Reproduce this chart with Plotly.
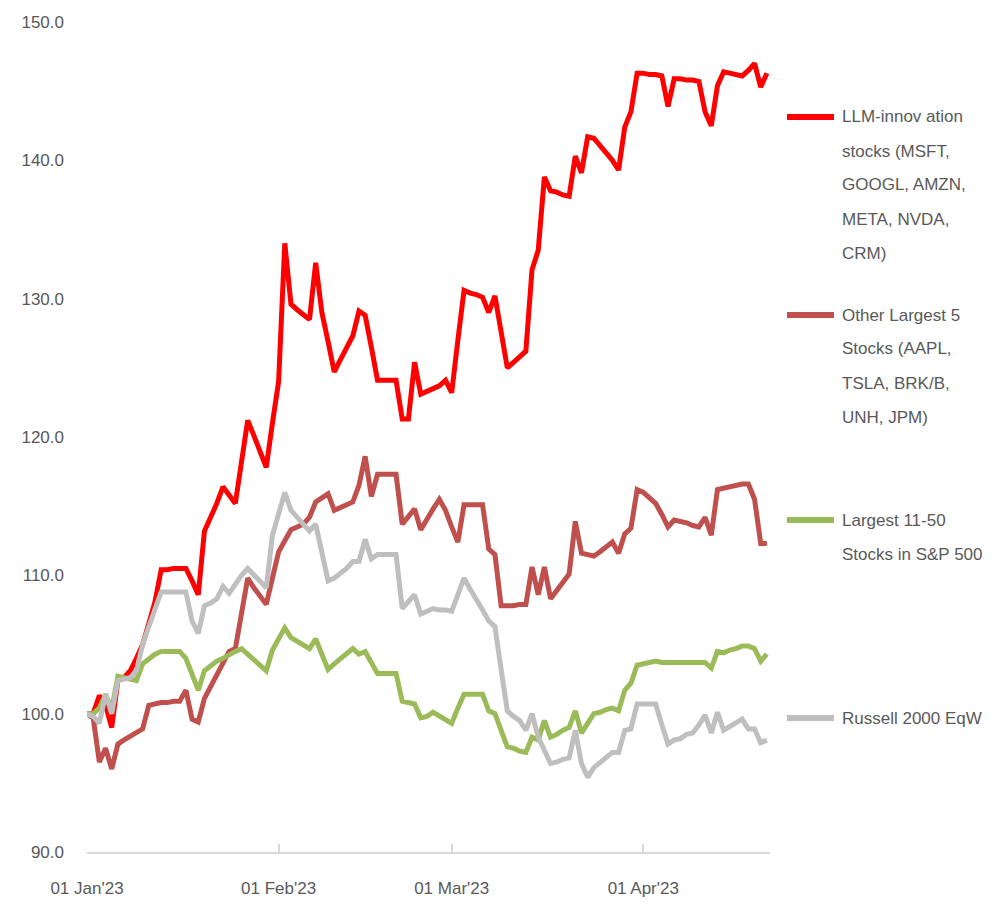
import pandas as pd
import plotly.graph_objects as go

# ---- data (calendar days, 01 Jan 2023 .. 21 Apr 2023; non-trading days carry the prior value) ----
dates = pd.date_range("2023-01-01", "2023-04-21", freq="D")

llm = [100.0, 100.0, 101.3, 100.6, 99.0, 102.4, 102.6, 103.1, 104.0, 105.0,
       106.5, 108.1, 110.4, 110.4, 110.5, 110.5, 110.5, 109.6, 108.6, 113.2,
       114.1, 115.2, 116.4, 115.8, 115.2, 118.2, 121.2, 120.1, 118.9, 117.8,
       121.0, 124.0, 134.0, 129.6, 129.2, 128.9, 128.5, 132.6, 129.0, 126.9,
       124.7, 125.6, 126.4, 127.3, 129.1, 128.8, 126.5, 124.1, 124.1, 124.1,
       124.1, 121.3, 121.3, 125.4, 123.1, 123.3, 123.5, 123.7, 124.1, 123.2,
       127.0, 130.6, 130.4, 130.3, 130.1, 129.0, 130.2, 127.6, 125.0, 125.4,
       125.8, 126.2, 132.1, 133.5, 138.8, 137.8, 137.7, 137.5, 137.4, 140.3,
       139.1, 141.7, 141.6, 141.1, 140.5, 140.0, 139.3, 142.4, 143.5, 146.3,
       146.3, 146.2, 146.2, 146.1, 143.9, 145.9, 145.9, 145.8, 145.8, 145.7,
       143.5, 142.5, 145.4, 146.4, 146.3, 146.2, 146.1, 146.5, 147.0, 145.3,
       146.3]

other5 = [100.0, 99.7, 96.5, 97.5, 96.0, 97.8, 98.1, 98.4, 98.7, 98.9,
          100.6, 100.7, 100.8, 100.8, 100.9, 100.9, 101.7, 99.6, 99.4, 101.1,
          102.0, 102.9, 103.7, 104.5, 104.7, 107.3, 109.8, 109.1, 108.5, 107.9,
          109.8, 111.7, 112.5, 113.3, 113.5, 113.7, 114.2, 115.3, 115.6, 115.9,
          114.7, 114.9, 115.1, 115.3, 116.5, 118.6, 115.7, 117.3, 117.3, 117.3,
          117.3, 113.7, 114.2, 114.8, 113.3, 114.1, 114.8, 115.5, 114.7, 113.5,
          112.4, 115.1, 115.1, 115.1, 115.1, 111.9, 111.5, 107.8, 107.8, 107.8,
          107.9, 107.9, 110.6, 108.6, 110.6, 108.3, 108.9, 109.5, 110.1, 113.9,
          111.6, 111.5, 111.4, 111.7, 112.0, 112.4, 111.6, 113.0, 113.4, 116.2,
          116.0, 115.6, 115.2, 114.4, 113.5, 114.0, 113.9, 113.8, 113.6, 113.5,
          114.2, 112.9, 116.2, 116.3, 116.4, 116.5, 116.6, 116.6, 115.5, 112.3,
          112.3]

largest_11_50 = [100.0, 100.0, 100.4, 101.4, 100.3, 102.7, 102.6, 102.5, 102.4, 103.6,
                 104.0, 104.3, 104.5, 104.5, 104.5, 104.5, 104.0, 102.8, 101.7, 103.1,
                 103.5, 103.8, 104.0, 104.3, 104.5, 104.7, 104.3, 103.8, 103.4, 103.1,
                 104.6, 105.4, 106.2, 105.5, 105.2, 105.0, 104.7, 105.4, 104.3, 103.2,
                 103.6, 104.0, 104.4, 104.7, 104.3, 104.5, 103.7, 102.9, 102.9, 102.9,
                 102.9, 100.9, 100.8, 100.7, 99.7, 99.8, 100.1, 99.8, 99.5, 99.3,
                 100.4, 101.4, 101.4, 101.4, 101.4, 100.2, 100.0, 98.8, 97.6, 97.5,
                 97.3, 97.2, 98.3, 98.1, 99.5, 98.3, 98.5, 98.8, 99.0, 100.2,
                 98.6, 99.3, 100.0, 100.1, 100.3, 100.4, 100.2, 101.7, 102.2, 103.5,
                 103.6, 103.7, 103.8, 103.7, 103.7, 103.7, 103.7, 103.7, 103.7, 103.7,
                 103.7, 103.3, 104.5, 104.4, 104.6, 104.7, 104.9, 104.9, 104.7, 103.8,
                 104.3]

russell = [100.0, 99.8, 99.3, 101.4, 100.0, 102.4, 102.5, 102.6, 103.1, 105.0,
           106.3, 107.6, 108.8, 108.8, 108.8, 108.8, 108.8, 106.7, 105.8, 107.8,
           108.0, 108.3, 109.2, 108.7, 109.4, 110.0, 110.5, 110.0, 109.5, 109.1,
           112.9, 114.5, 116.0, 114.7, 114.2, 113.7, 113.2, 113.7, 111.6, 109.6,
           109.8, 110.1, 110.5, 111.0, 111.0, 112.6, 111.2, 111.5, 111.5, 111.5,
           111.5, 107.6, 108.1, 108.6, 107.2, 107.4, 107.6, 107.5, 107.5, 107.4,
           108.6, 109.8, 109.0, 108.3, 107.5, 106.7, 106.3, 103.2, 100.2, 99.8,
           99.5, 98.8, 100.0, 98.3, 97.3, 96.4, 96.5, 96.7, 96.8, 98.8,
           96.4, 95.4, 96.1, 96.5, 96.8, 97.2, 97.2, 98.8, 98.9, 100.7,
           100.7, 100.7, 100.7, 99.2, 97.8, 98.1, 98.2, 98.5, 98.6, 99.2,
           99.9, 98.6, 100.1, 98.8, 99.1, 99.3, 99.6, 98.9, 98.9, 97.9,
           98.1]

series_names = ["LLM-innovation stocks (MSFT, GOOGL, AMZN, META, NVDA, CRM)",
                "Other Largest 5 Stocks (AAPL, TSLA, BRK/B, UNH, JPM)",
                "Largest 11-50 Stocks in S&P 500",
                "Russell 2000 EqW"]
legend_lines = [["LLM-innov ation", "stocks (MSFT,", "GOOGL, AMZN,", "META, NVDA,", "CRM)"],
                ["Other Largest 5", "Stocks (AAPL,", "TSLA, BRK/B,", "UNH, JPM)"],
                ["Largest 11-50", "Stocks in S&P 500"],
                ["Russell 2000 EqW"]]
y_ticks = [90, 100, 110, 120, 130, 140, 150]

series_values = [llm, other5, largest_11_50, russell]
for v in series_values:
    assert len(v) == len(dates), len(v)

# ---- styling ----
colors = ["#FF0000", "#C0504D", "#9BBB59", "#BFBFBF"]
FONT = "Liberation Sans, Arial, sans-serif"
FS = 17
TXT = "#595959"
W, H = 1006, 912
L, R, T, B = 87, 236, 22, 60
PW, PH = W - L - R, H - T - B

fig = go.Figure()
for name, vals, col in zip(series_names, series_values, colors):
    fig.add_trace(go.Scatter(x=dates, y=vals, mode="lines", name=name,
                             line=dict(color=col, width=5), showlegend=False,
                             hoverinfo="skip"))

def px_x(p):
    return (p - L) / PW

def px_y(p):
    return (H - B - p) / PH

legend_tops = [117, 315, 520, 718]
line_gap = 34
shapes, annotations = [], []
for lines, col, top in zip(legend_lines, colors, legend_tops):
    shapes.append(dict(type="line", xref="paper", yref="paper",
                       x0=px_x(787), x1=px_x(834), y0=px_y(top), y1=px_y(top),
                       line=dict(color=col, width=6)))
    for i, t in enumerate(lines):
        annotations.append(dict(text=t, xref="paper", yref="paper",
                                x=px_x(840), y=px_y(top + i * line_gap),
                                xanchor="left", yanchor="middle", showarrow=False,
                                font=dict(family=FONT, size=FS, color=TXT)))

fig.update_layout(
    width=W, height=H,
    margin=dict(l=L, r=R, t=T, b=B, pad=0, autoexpand=False),
    paper_bgcolor="white", plot_bgcolor="white",
    font=dict(family=FONT, size=FS, color=TXT),
    shapes=shapes, annotations=annotations,
    showlegend=False,
)
fig.update_xaxes(
    range=[pd.Timestamp("2023-01-01"), pd.Timestamp("2023-04-21 12:00")],
    tickmode="linear", tick0="2023-01-01", dtick="M1", tickformat="%d %b'%y",
    showgrid=False, zeroline=False,
    showline=True, linecolor="#D9D9D9", linewidth=2,
    ticks="inside", ticklen=8, tickcolor="#D9D9D9", tickwidth=1.5,
    ticklabelstandoff=20,
    tickfont=dict(family=FONT, size=FS, color=TXT),
)
fig.update_yaxes(
    range=[90, 150], tickvals=y_ticks, tickformat=".1f",
    showgrid=False, zeroline=False, showline=False, ticks="",
    ticklabelstandoff=22,
    tickfont=dict(family=FONT, size=FS, color=TXT),
)

fig.write_html("out.html", config={"displayModeBar": False},
               post_script="document.body.style.margin='0px';")
